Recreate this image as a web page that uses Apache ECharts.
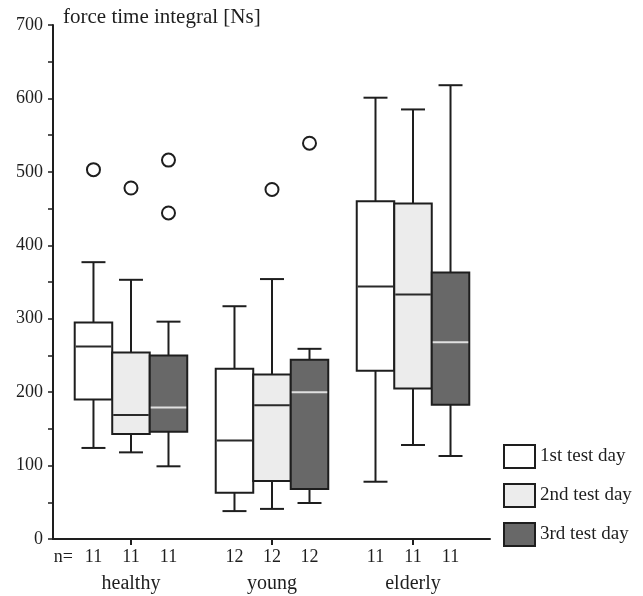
<!DOCTYPE html>
<html>
<head>
<meta charset="utf-8">
<script src="https://cdn.jsdelivr.net/npm/echarts@6/dist/echarts.min.js"></script>
<style>
html,body{margin:0;padding:0;background:#fff;}
#chart{width:643px;height:596px;}
</style>
</head>
<body>
<div id="chart"></div>
<script>
// ---- data ----
const categories = ['healthy', 'young', 'elderly'];
const testDays = ['1st test day', '2nd test day', '3rd test day'];
// n per category (rows) and test day (columns)
const nCounts = [[11, 11, 11], [12, 12, 12], [11, 11, 11]];
// [lower whisker, Q1, median, Q3, upper whisker] per category
const day1 = [[124, 190, 262, 295, 377], [38, 63, 134, 232, 317], [78, 229, 344, 460, 601]];
const day2 = [[118, 143, 169, 254, 353], [41, 79, 182, 224, 354], [128, 205, 333, 457, 585]];
const day3 = [[99, 146, 179, 250, 296], [49, 68, 200, 244, 259], [113, 183, 268, 363, 618]];
// outliers: [category index, value]
const out1 = [[0, 503]];
const out2 = [[0, 478], [1, 476]];
const out3 = [[0, 516], [0, 444], [1, 539]];
const yTicks = [0, 100, 200, 300, 400, 500, 600, 700];

// ---- styling / layout ----
const FONT = 'Liberation Serif';
const INK = '#1e1e1e';
const fills = ['#ffffff', '#ececec', '#686868'];
const medianColors = ['#2a2a2a', '#2a2a2a', '#e0e0e0'];
const OFFSETS = [-0.266, 0, 0.266];
const BOX_W = 0.266;
const CAP_W = 0.17;
const XMIN = 0.447, XMAX = 3.546;
const allDays = [day1, day2, day3];
const allOut = [out1, out2, out3];

function renderBox(params, api) {
  const x = api.value(0);
  const lo = api.coord([x, api.value(1)]);
  const q1 = api.coord([x, api.value(2)]);
  const md = api.coord([x, api.value(3)]);
  const q3 = api.coord([x, api.value(4)]);
  const hi = api.coord([x, api.value(5)]);
  const sIdx = params.seriesIndex;
  const half = api.size([BOX_W, 0])[0] / 2;
  const capHalf = api.size([CAP_W, 0])[0] / 2;
  const cx = lo[0];
  const ls = { stroke: INK, lineWidth: 2 };
  return {
    type: 'group',
    children: [
      { type: 'line', shape: { x1: cx, y1: hi[1], x2: cx, y2: q3[1] }, style: ls },
      { type: 'line', shape: { x1: cx - capHalf, y1: hi[1], x2: cx + capHalf, y2: hi[1] }, style: ls },
      { type: 'line', shape: { x1: cx, y1: q1[1], x2: cx, y2: lo[1] }, style: ls },
      { type: 'line', shape: { x1: cx - capHalf, y1: lo[1], x2: cx + capHalf, y2: lo[1] }, style: ls },
      { type: 'rect', shape: { x: cx - half, y: q3[1], width: half * 2, height: q1[1] - q3[1] },
        style: { fill: fills[sIdx], stroke: INK, lineWidth: 2 } },
      { type: 'line', shape: { x1: cx - half + 1, y1: md[1], x2: cx + half - 1, y2: md[1] },
        style: { stroke: medianColors[sIdx], lineWidth: 2 } }
    ]
  };
}

const series = [];
allDays.forEach((d, s) => {
  series.push({
    name: testDays[s],
    type: 'custom',
    renderItem: renderBox,
    encode: { x: 0, y: [1, 2, 3, 4, 5] },
    itemStyle: { color: fills[s], borderColor: INK, borderWidth: 2 },
    data: d.map((v, c) => [c + 1 + OFFSETS[s]].concat(v)),
    z: 2 + s
  });
});
allOut.forEach((o, s) => {
  series.push({
    type: 'scatter',
    symbol: 'circle',
    symbolSize: 13,
    itemStyle: { color: '#fff', borderColor: INK, borderWidth: 2, opacity: 1 },
    data: o.map(p => [p[0] + 1 + OFFSETS[s], p[1]]),
    z: 10
  });
});

// n= labels positions
const nPos = [0.521];
const nText = ['n='];
categories.forEach((c, ci) => {
  OFFSETS.forEach((off, s) => {
    nPos.push(ci + 1 + off);
    nText.push(String(nCounts[ci][s]));
  });
});
function lookup(v, pos, txt) {
  for (let i = 0; i < pos.length; i++) if (Math.abs(pos[i] - v) < 1e-6) return txt[i];
  return '';
}

const chart = echarts.init(document.getElementById('chart'));
chart.setOption({
  animation: false,
  backgroundColor: '#fff',
  title: {
    text: 'force time integral [Ns]',
    left: 63, top: 7, padding: 0,
    textStyle: { fontFamily: FONT, fontSize: 21, fontWeight: 'normal', color: INK }
  },
  legend: {
    orient: 'vertical',
    left: 503, top: 444, padding: 0,
    itemWidth: 31, itemHeight: 23, itemGap: 14,
    textStyle: { fontFamily: FONT, fontSize: 19, color: INK },
    data: testDays.map((n, i) => ({
      name: n, icon: 'rect',
      itemStyle: { color: fills[i], borderColor: INK, borderWidth: 2 }
    }))
  },
  grid: { left: 53, right: 153, top: 25, bottom: 57, containLabel: false },
  xAxis: [{
    type: 'value', min: XMIN, max: XMAX,
    axisLine: { show: true, lineStyle: { color: INK, width: 2 } },
    axisTick: { show: true, customValues: categories.map((c, i) => i + 1), length: 6, lineStyle: { color: INK, width: 2 } },
    axisLabel: {
      customValues: nPos, margin: 9,
      formatter: v => lookup(v, nPos, nText),
      fontFamily: FONT, fontSize: 18, color: INK
    },
    splitLine: { show: false }
  }, {
    type: 'value', min: XMIN, max: XMAX, position: 'bottom',
    axisLine: { show: false }, axisTick: { show: false },
    axisLabel: {
      customValues: categories.map((c, i) => i + 1), margin: 35,
      formatter: v => categories[Math.round(v) - 1] || '',
      fontFamily: FONT, fontSize: 20, color: INK
    },
    splitLine: { show: false }
  }],
  yAxis: {
    type: 'value', min: 0, max: 700, interval: 50,
    axisLine: { show: true, lineStyle: { color: INK, width: 2 } },
    axisTick: { show: true, length: 5, lineStyle: { color: INK, width: 1.5 } },
    axisLabel: {
      margin: 10,
      formatter: v => (yTicks.indexOf(v) >= 0 ? String(v) : ''),
      fontFamily: FONT, fontSize: 18, color: INK
    },
    splitLine: { show: false }
  },
  series: series
});
</script>
</body>
</html>
